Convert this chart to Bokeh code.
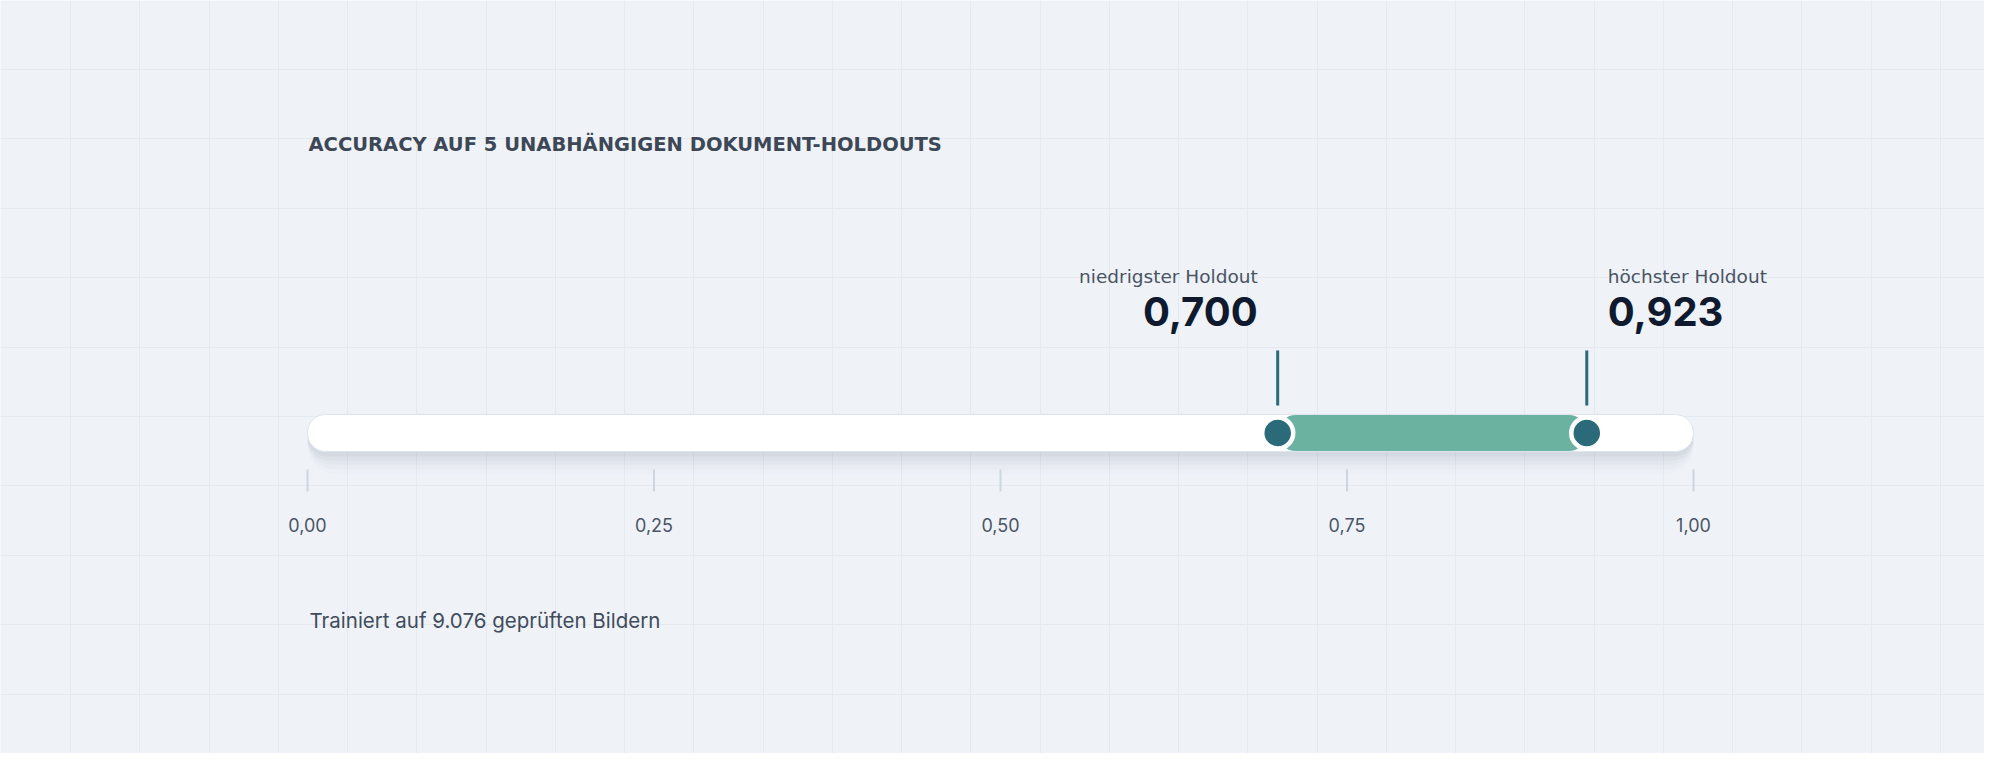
import numpy as np
from bokeh.plotting import figure
from bokeh.models import Range1d, FixedTicker
from bokeh.core.properties import value
from bokeh.embed import file_html
from bokeh.resources import INLINE

# ---------------- data ----------------
title_text = "ACCURACY AUF 5 UNABHÄNGIGEN DOKUMENT-HOLDOUTS"
footer_text = "Trainiert auf 9.076 geprüften Bildern"
domain = [0.0, 1.0]
tick_values = [0.0, 0.25, 0.5, 0.75, 1.0]
tick_labels = ["0,00", "0,25", "0,50", "0,75", "1,00"]
marker_names = ["niedrigster Holdout", "höchster Holdout"]
marker_values = [0.700, 0.923]
marker_labels = ["0,700", "0,923"]

# ---------------- layout ----------------
W, H = 1984, 753            # figure size (pixel space of the y-range)
LEFT_PX, SPAN_PX = 307, 1386
x0 = domain[0] - LEFT_PX / SPAN_PX * (domain[1] - domain[0])
x1 = domain[0] + (W - LEFT_PX) / SPAN_PX * (domain[1] - domain[0])

BG = "#eff3f8"
TEAL = "#2b6a79"
GREEN = "#6bb3a0"
BASE_SHIFT = 0.36           # correction of the rendered text baseline (fraction of font size)


def ty(baseline, fs):
    return baseline - BASE_SHIFT * fs


p = figure(width=W, height=H, x_range=Range1d(x0, x1), y_range=Range1d(H, 0),
           output_backend="svg", toolbar_location=None, min_border=0,
           x_axis_location=None, y_axis_location=None,
           background_fill_color=BG, border_fill_color=BG)
p.outline_line_color = None

# background grid (decorative, every ~69 px)
gx_px = 70 + 69.25 * np.arange(0, 29)
p.xgrid.ticker = FixedTicker(ticks=list((gx_px - LEFT_PX) / SPAN_PX))
p.ygrid.ticker = FixedTicker(ticks=list(69 + 69.4 * np.arange(0, 11)))
p.grid.grid_line_color = "#e5eaf0"
p.grid.grid_line_width = 1

TRACK_Y = 432.5
TRACK_H = 37

# soft shadow under the track
for dy, dh, a in [(3, 4, 0.045), (5, 8, 0.035), (7, 12, 0.03), (9, 18, 0.022), (11, 24, 0.015)]:
    p.hbar(y=[TRACK_Y + dy], left=[domain[0]], right=[domain[1]], height=TRACK_H + dh,
           fill_color="#475569", fill_alpha=a, line_color=None,
           border_radius=int((TRACK_H + dh) // 2))

# track
p.hbar(y=[TRACK_Y], left=[domain[0]], right=[domain[1]], height=TRACK_H,
       fill_color="white", line_color="#dfe5ec", line_width=1, border_radius=int(TRACK_H // 2))

# range band
p.hbar(y=[TRACK_Y], left=[marker_values[0]], right=[marker_values[1]], height=TRACK_H - 1,
       fill_color=GREEN, line_color=None, border_radius=int((TRACK_H - 1) // 2))

# marker stems
p.segment(x0=marker_values, x1=marker_values, y0=[350, 350], y1=[405, 405],
          line_color=TEAL, line_width=3)

# dots
p.scatter(x=marker_values, y=[TRACK_Y] * 2, size=31, fill_color=TEAL,
          line_color="white", line_width=4.5)

# axis ticks
FS_TICK = 18
p.segment(x0=tick_values, x1=tick_values, y0=[469] * len(tick_values), y1=[491] * len(tick_values),
          line_color="#cdd5df", line_width=2)
p.text(x=tick_values, y=[ty(531, FS_TICK)] * len(tick_values), text=tick_labels,
       text_font=value("Inter"), text_font_size=value(f"{FS_TICK}px"), text_color="#4b5565",
       text_align="center", text_baseline="alphabetic")

# marker labels
FS_NAME, FS_VAL = 18.5, 40
p.text(x=[marker_values[0]], y=[ty(283, FS_NAME)], text=[marker_names[0]], x_offset=-20,
       text_font=value("DejaVu Sans"), text_font_size=value(f"{FS_NAME}px"), text_color="#4a5362",
       text_align="right", text_baseline="alphabetic")
p.text(x=[marker_values[1]], y=[ty(283, FS_NAME)], text=[marker_names[1]], x_offset=21,
       text_font=value("DejaVu Sans"), text_font_size=value(f"{FS_NAME}px"), text_color="#4a5362",
       text_align="left", text_baseline="alphabetic")
p.text(x=[marker_values[0]], y=[ty(325, FS_VAL)], text=[marker_labels[0]], x_offset=-20,
       text_font=value("Inter"), text_font_size=value(f"{FS_VAL}px"), text_font_style="bold",
       text_color="#0f1a2e", text_align="right", text_baseline="alphabetic")
p.text(x=[marker_values[1]], y=[ty(325, FS_VAL)], text=[marker_labels[1]], x_offset=21,
       text_font=value("Inter"), text_font_size=value(f"{FS_VAL}px"), text_font_style="bold",
       text_color="#0f1a2e", text_align="left", text_baseline="alphabetic")

# title and footer
FS_TITLE, FS_FOOT = 19.5, 20.5
p.text(x=[domain[0]], y=[ty(151, FS_TITLE)], text=[title_text], x_offset=1,
       text_font=value("DejaVu Sans"), text_font_size=value(f"{FS_TITLE}px"), text_font_style="bold",
       text_color="#3d4756", text_align="left", text_baseline="alphabetic")
p.text(x=[domain[0]], y=[ty(627, FS_FOOT)], text=[footer_text], x_offset=2,
       text_font=value("Inter"), text_font_size=value(f"{FS_FOOT}px"), text_color="#414b5b",
       text_align="left", text_baseline="alphabetic")

open("out.html", "w").write(file_html(p, INLINE))
